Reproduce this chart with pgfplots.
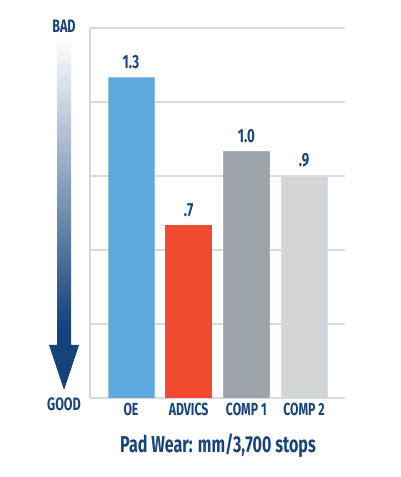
\documentclass[border=0pt]{standalone}
\usepackage{pgfplots}
\pgfplotsset{compat=1.18}
\usepackage{fontspec}
\setmainfont{Fira Sans}[FakeStretch=0.7]
\definecolor{navy}{HTML}{1B4577}
\definecolor{arrowblue}{HTML}{15437A}
\definecolor{gridgray}{HTML}{D9D9D9}
\definecolor{oeblue}{HTML}{5DA9DD}
\definecolor{advred}{HTML}{F04A30}
\definecolor{compone}{HTML}{9DA3AA}
\definecolor{comptwo}{HTML}{D3D6D9}
% fades from white at the top to full blue well above the arrow head
\pgfdeclareverticalshading{arrowfade}{100bp}{%
  color(0bp)=(arrowblue); color(34bp)=(arrowblue);
  color(75bp)=(white); color(100bp)=(white)}
\begin{document}
\begin{tikzpicture}
\path (0pt,0pt) rectangle (400pt,477pt);
% good/bad scale arrow
\shade[shading=arrowfade]
  (57pt,440pt) -- (71pt,440pt) -- (71pt,132pt) -- (79pt,132pt) -- (64pt,87pt)
  -- (49pt,132pt) -- (57pt,132pt) -- cycle;
\node[text=navy, font=\bfseries\fontsize{18}{18}\selectfont] at (64pt,451pt) {BAD};
\node[text=navy, font=\bfseries\fontsize{18}{18}\selectfont] at (64pt,73pt) {GOOD};
\begin{axis}[
  at={(90pt,79pt)}, anchor=south west,
  scale only axis, width=255pt, height=370pt,
  xmin=-0.71, xmax=3.71, ymin=0, ymax=1.5,
  ybar, bar width=46pt, bar shift=0pt,
  axis x line*=bottom, axis y line*=left,
  axis line style={draw=gridgray, line width=1.2pt, -},
  ytick={0,0.3,0.6,0.9,1.2,1.5}, yticklabels={},
  ymajorgrids, grid style={draw=gridgray, line width=1.2pt},
  xtick={0,1,2,3}, xticklabels={OE,ADVICS,COMP\,1,COMP\,2},
  major tick length=0pt,
  tick label style={font=\bfseries\fontsize{17.5}{17.5}\selectfont, text=navy},
  xticklabel style={yshift=-2pt},
  point meta=explicit symbolic,
  nodes near coords,
  nodes near coords style={font=\bfseries\fontsize{19}{19}\selectfont, text=navy, yshift=5pt},
]
\addplot[fill=oeblue, draw=oeblue!70!white] coordinates {(0,1.3) [1.3]};
\addplot[fill=advred, draw=advred] coordinates {(1,0.7) [.7]};
\addplot[fill=compone, draw=compone!85!white] coordinates {(2,1.0) [1.0]};
\addplot[fill=comptwo, draw=comptwo!85!white] coordinates {(3,0.9) [.9]};
\end{axis}
\node[text=navy, font=\bfseries\fontsize{23}{23}\selectfont] at (218pt,31pt) {Pad Wear: mm/3,700 stops};
\end{tikzpicture}
\end{document}
